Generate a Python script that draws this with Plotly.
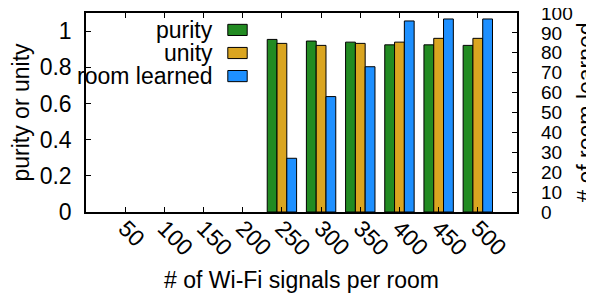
import plotly.graph_objects as go

categories = ["50", "100", "150", "200", "250", "300", "350", "400", "450", "500"]
purity = [0, 0, 0, 0, 0.954, 0.945, 0.939, 0.924, 0.924, 0.921]
unity = [0, 0, 0, 0, 0.932, 0.921, 0.932, 0.939, 0.960, 0.960]
rooms_learned = [0, 0, 0, 0, 27, 58, 73, 96, 97, 97]
series_names = ["purity", "unity", "room learned"]
left_ticks = [0, 0.2, 0.4, 0.6, 0.8, 1]
left_tick_text = ["0", "0.2", "0.4", "0.6", "0.8", "1"]
right_ticks = list(range(0, 101, 10))

colors = ["#228B22", "#DAA520", "#1E90FF"]
FONT = "Liberation Sans"
FS = 23
BW = 0.25

fig = go.Figure()
for i, (name, vals) in enumerate(zip(series_names, [purity, unity, rooms_learned])):
    fig.add_trace(go.Bar(
        x=categories, y=vals, name=name,
        yaxis="y2" if i == 2 else "y",
        width=BW, offset=-1.5 * BW + i * BW,
        marker=dict(color=colors[i],
                    line=dict(color="#000000", width=[1 if v > 0 else 0 for v in vals])),
        showlegend=False,
    ))

# custom legend (text right-aligned, swatch on the right, like gnuplot)
row_y = [0.915, 0.799, 0.683]
for i, name in enumerate(series_names):
    fig.add_annotation(
        xref="paper", yref="paper", x=0.300, y=row_y[i], text=name,
        showarrow=False, xanchor="right", yanchor="middle",
        font=dict(family=FONT, size=FS, color="black"),
    )
    fig.add_shape(
        type="rect", xref="paper", yref="paper",
        x0=0.329, x1=0.374, y0=row_y[i] - 0.028, y1=row_y[i] + 0.028,
        fillcolor=colors[i], line=dict(color="black", width=1),
    )

# page body has an 8px default margin; margins compensate for it
fig.update_layout(
    width=594, height=297,
    margin=dict(l=78, r=85, t=5, b=93, autoexpand=False),
    paper_bgcolor="white", plot_bgcolor="white",
    font=dict(family=FONT, size=FS, color="black"),
    barmode="overlay",
    xaxis=dict(
        type="category", range=[-1, 10], automargin=False,
        tickangle=45, ticks="inside", ticklen=5, tickcolor="black",
        showline=True, linecolor="black", linewidth=1.5, mirror="ticks",
        showgrid=False, tickfont=dict(size=FS), ticklabelstandoff=-8,
        title=dict(text="# of Wi-Fi signals per room", font=dict(size=FS), standoff=12),
    ),
    yaxis=dict(
        range=[0, 1.1], tickvals=left_ticks, ticktext=left_tick_text, automargin=False,
        ticks="inside", ticklen=5, tickcolor="black",
        showline=True, linecolor="black", linewidth=1.5, mirror=True,
        showgrid=False, zeroline=False, tickfont=dict(size=FS),
        ticklabelstandoff=8,
        title=dict(text="purity or unity", font=dict(size=FS), standoff=14),
    ),
    yaxis2=dict(
        overlaying="y", side="right", range=[0, 100], tickvals=right_ticks, automargin=False,
        ticks="inside", ticklen=5, tickcolor="black", ticklabeloverflow="allow",
        showline=False, showgrid=False, zeroline=False,
        tickfont=dict(size=19), ticklabelstandoff=23,
        title=dict(text="# of room learned", font=dict(size=FS), standoff=6),
    ),
)

fig.write_html("out.html")
